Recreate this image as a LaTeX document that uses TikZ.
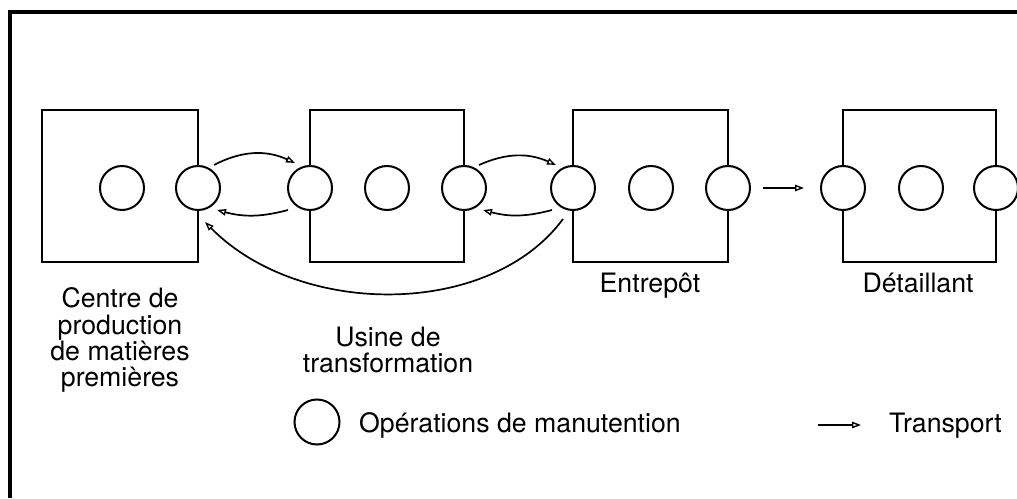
\documentclass[tikz,border=0pt]{standalone}
\usepackage{fontspec}
\setmainfont{TeX Gyre Heros}
\usetikzlibrary{arrows.meta}
\begin{document}
\begin{tikzpicture}[x=1pt,y=1pt,
  op/.style={circle, draw, line width=2pt, minimum size=44pt, inner sep=0pt},
  boxline/.style={line width=2.7pt, line join=miter},
  flow/.style={line width=1.7pt, -{Triangle[open,length=9pt,width=6.5pt,line width=1.4pt]}},
  lbl/.style={font=\fontsize{26.7}{26.4}\selectfont, align=center, inner sep=0pt}
]
\useasboundingbox (0,0) rectangle (1017,498);
% outer frame (top and left edges)
\draw[line width=3.2pt, line join=miter] (10,0) -- (10,486) -- (1017,486);

% handling operations
\node[op] (c11) at (122,310) {};
\node[op] (c12) at (198,310) {};
\node[op] (c21) at (310,310) {};
\node[op] (c22) at (387,310) {};
\node[op] (c23) at (464,310) {};
\node[op] (c31) at (573,310) {};
\node[op] (c32) at (651,310) {};
\node[op] (c33) at (728,310) {};
\node[op] (c41) at (843,310) {};
\node[op] (c42) at (921,310) {};
\node[op] (c43) at (996,310) {};

% sites
\draw[boxline] (c12.north) -- (198,388) -- (42,388) -- (42,236) -- (198,236) -- (c12.south);
\draw[boxline] (c21.north) -- (310,388) -- (464,388) -- (c23.north);
\draw[boxline] (c21.south) -- (310,236) -- (464,236) -- (c23.south);
\draw[boxline] (c31.north) -- (573,388) -- (728,388) -- (c33.north);
\draw[boxline] (c31.south) -- (573,236) -- (728,236) -- (c33.south);
\draw[boxline] (c41.north) -- (843,388) -- (996,388) -- (c43.north);
\draw[boxline] (c41.south) -- (843,236) -- (996,236) -- (c43.south);

% transport links
\draw[flow] ([shift={(16,23)}]c12.center) to[bend left=26] ([shift={(-15,25)}]c21.center);
\draw[flow] ([shift={(-22,-22)}]c21.center) to[bend left=15] ([shift={(19,-22)}]c12.center);
\draw[flow] ([shift={(15,23)}]c23.center) to[bend left=24] ([shift={(-17,23)}]c31.center);
\draw[flow] ([shift={(-21,-22)}]c31.center) to[bend left=15] ([shift={(19,-22)}]c23.center);
\draw[flow] ([shift={(-10,-31)}]c31.center) .. controls +(-73,-99) and +(95,-96) .. ([shift={(7,-34)}]c12.center);
\draw[flow] ([xshift=12pt]c33.east) -- ([xshift=-16pt]c41.west);

% site names
\node[lbl, anchor=north] (l1) at (120,210.5) {Centre de\\production\\de matières\\premières};
\node[lbl, anchor=north] (l2) at (388,171.5) {Usine de\\transformation};
\node[lbl, anchor=base] (l3) at (650,205) {Entrepôt};
\node[lbl, anchor=base] (l4) at (918,205) {Détaillant};

% legend
\node[op, minimum size=45pt] (leg) at (317,76) {};
\node[lbl, anchor=base west] (legop) at (359,66) {Opérations de manutention};
\coordinate (ta) at (818,73);
\coordinate (tb) at (861,73);
\draw[flow] (ta) -- (tb);
\node[lbl, anchor=base west] (legtr) at (889,66) {Transport};
\end{tikzpicture}
\end{document}
